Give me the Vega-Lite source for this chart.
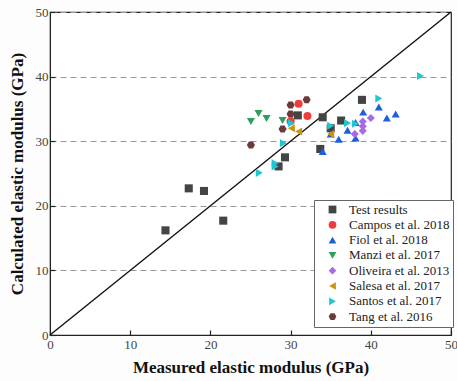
{
  "$schema": "https://vega.github.io/schema/vega-lite/v6.json",
  "width": 401,
  "height": 323,
  "autosize": {"type": "none"},
  "padding": {"left": 50, "top": 12, "right": 6, "bottom": 46},
  "background": "#fdfdfd",
  "config": {
    "font": "Liberation Serif",
    "view": {"stroke": "#222", "strokeWidth": 1.2, "fill": "white"},
    "axis": {
      "labelFont": "Liberation Serif",
      "labelFontSize": 13,
      "labelColor": "#444",
      "titleFont": "Liberation Serif",
      "titleFontSize": 17,
      "titleFontWeight": "bold",
      "titleColor": "#111",
      "domainColor": "#222",
      "tickColor": "#222",
      "tickSize": -5,
      "tickWidth": 1.2
    },
    "legend": {"labelFont": "Liberation Serif"}
  },
  "layer": [
    {
      "data": {"values": [{"measured": 0, "calculated": 0}, {"measured": 50, "calculated": 50}]},
      "mark": {"type": "line", "color": "#111", "strokeWidth": 1.4},
      "encoding": {
        "x": {"field": "measured", "type": "quantitative", "scale": {"domain": [0, 50], "nice": false}},
        "y": {"field": "calculated", "type": "quantitative", "scale": {"domain": [0, 50], "nice": false}}
      }
    },
    {
      "data": {"values": [
        {"series": "Test results", "measured": 14.4, "calculated": 16.2},
        {"series": "Test results", "measured": 17.3, "calculated": 22.7},
        {"series": "Test results", "measured": 19.2, "calculated": 22.3},
        {"series": "Test results", "measured": 21.6, "calculated": 17.7},
        {"series": "Test results", "measured": 28.5, "calculated": 26.1},
        {"series": "Test results", "measured": 29.3, "calculated": 27.5},
        {"series": "Test results", "measured": 30.9, "calculated": 34.0},
        {"series": "Test results", "measured": 34.0, "calculated": 33.7},
        {"series": "Test results", "measured": 33.7, "calculated": 28.8},
        {"series": "Test results", "measured": 35.0, "calculated": 32.0},
        {"series": "Test results", "measured": 36.3, "calculated": 33.2},
        {"series": "Test results", "measured": 38.9, "calculated": 36.4},
        {"series": "Campos et al. 2018", "measured": 31.0, "calculated": 35.8},
        {"series": "Campos et al. 2018", "measured": 32.1, "calculated": 33.9},
        {"series": "Campos et al. 2018", "measured": 30.0, "calculated": 33.1},
        {"series": "Fiol et al. 2018", "measured": 34.0, "calculated": 28.4},
        {"series": "Fiol et al. 2018", "measured": 35.0, "calculated": 31.1},
        {"series": "Fiol et al. 2018", "measured": 36.0, "calculated": 30.3},
        {"series": "Fiol et al. 2018", "measured": 37.1, "calculated": 31.7},
        {"series": "Fiol et al. 2018", "measured": 38.1, "calculated": 30.5},
        {"series": "Fiol et al. 2018", "measured": 38.1, "calculated": 32.9},
        {"series": "Fiol et al. 2018", "measured": 39.05, "calculated": 34.5},
        {"series": "Fiol et al. 2018", "measured": 41.0, "calculated": 35.3},
        {"series": "Fiol et al. 2018", "measured": 42.0, "calculated": 33.6},
        {"series": "Fiol et al. 2018", "measured": 43.1, "calculated": 34.2},
        {"series": "Manzi et al. 2017", "measured": 25.05, "calculated": 33.05},
        {"series": "Manzi et al. 2017", "measured": 26.0, "calculated": 34.3},
        {"series": "Manzi et al. 2017", "measured": 27.0, "calculated": 33.5},
        {"series": "Manzi et al. 2017", "measured": 29.0, "calculated": 33.2},
        {"series": "Oliveira et al. 2013", "measured": 38.0, "calculated": 31.1},
        {"series": "Oliveira et al. 2013", "measured": 39.0, "calculated": 31.6},
        {"series": "Oliveira et al. 2013", "measured": 39.0, "calculated": 32.3},
        {"series": "Oliveira et al. 2013", "measured": 39.0, "calculated": 33.05},
        {"series": "Oliveira et al. 2013", "measured": 40.0, "calculated": 33.6},
        {"series": "Salesa et al. 2017", "measured": 30.1, "calculated": 32.0},
        {"series": "Salesa et al. 2017", "measured": 31.0, "calculated": 31.5},
        {"series": "Salesa et al. 2017", "measured": 35.0, "calculated": 31.1},
        {"series": "Santos et al. 2017", "measured": 26.1, "calculated": 25.1},
        {"series": "Santos et al. 2017", "measured": 28.07, "calculated": 26.6},
        {"series": "Santos et al. 2017", "measured": 28.07, "calculated": 26.1},
        {"series": "Santos et al. 2017", "measured": 29.1, "calculated": 29.7},
        {"series": "Santos et al. 2017", "measured": 30.1, "calculated": 32.8},
        {"series": "Santos et al. 2017", "measured": 35.0, "calculated": 32.4},
        {"series": "Santos et al. 2017", "measured": 37.1, "calculated": 32.8},
        {"series": "Santos et al. 2017", "measured": 38.1, "calculated": 32.7},
        {"series": "Santos et al. 2017", "measured": 41.0, "calculated": 36.6},
        {"series": "Santos et al. 2017", "measured": 46.2, "calculated": 40.1},
        {"series": "Tang et al. 2016", "measured": 25.05, "calculated": 29.4},
        {"series": "Tang et al. 2016", "measured": 29.0, "calculated": 31.9},
        {"series": "Tang et al. 2016", "measured": 30.0, "calculated": 35.6},
        {"series": "Tang et al. 2016", "measured": 30.0, "calculated": 34.2},
        {"series": "Tang et al. 2016", "measured": 32.0, "calculated": 36.4}
      ]},
      "mark": {"type": "point", "filled": true, "opacity": 1, "size": 65},
      "encoding": {
        "x": {
          "field": "measured", "type": "quantitative",
          "scale": {"domain": [0, 50], "nice": false},
          "axis": {"values": [0, 10, 20, 30, 40, 50], "title": "Measured elastic modulus (GPa)", "labelPadding": 8, "titlePadding": 8, "grid": false, "labelFlush": false}
        },
        "y": {
          "field": "calculated", "type": "quantitative",
          "scale": {"domain": [0, 50], "nice": false},
          "axis": {"values": [0, 10, 20, 30, 40, 50], "title": "Calculated elastic modulus (GPa)", "labelPadding": 7, "titlePadding": 9, "grid": true, "gridDash": [6, 4], "gridColor": "#999", "gridWidth": 1.1, "labelFlush": false}
        },
        "color": {
          "field": "series", "type": "nominal",
          "scale": {
            "domain": ["Test results", "Campos et al. 2018", "Fiol et al. 2018", "Manzi et al. 2017", "Oliveira et al. 2013", "Salesa et al. 2017", "Santos et al. 2017", "Tang et al. 2016"],
            "range": ["#444444", "#f03c3c", "#1e5fdc", "#2d9e5c", "#a86ae2", "#c9960f", "#1dc6d2", "#6b3b3b"]
          },
          "legend": {
            "title": null,
            "orient": "none",
            "legendX": 264,
            "legendY": 188,
            "padding": 3,
            "symbolOffset": 9,
            "labelOffset": 10,
            "rowPadding": 1.3,
            "labelFont": "Liberation Serif",
            "labelFontSize": 13,
            "labelColor": "#222",
            "symbolSize": 60,
            "strokeColor": "#666",
            "fillColor": "white",
            "symbolStrokeWidth": 0
          }
        },
        "shape": {
          "field": "series", "type": "nominal",
          "scale": {
            "domain": ["Test results", "Campos et al. 2018", "Fiol et al. 2018", "Manzi et al. 2017", "Oliveira et al. 2013", "Salesa et al. 2017", "Santos et al. 2017", "Tang et al. 2016"],
            "range": ["square", "circle", "triangle-up", "triangle-down", "diamond", "triangle-left", "triangle-right", "M-1,0L-0.5,-0.866L0.5,-0.866L1,0L0.5,0.866L-0.5,0.866Z"]
          },
          "legend": null
        }
      }
    }
  ]
}
